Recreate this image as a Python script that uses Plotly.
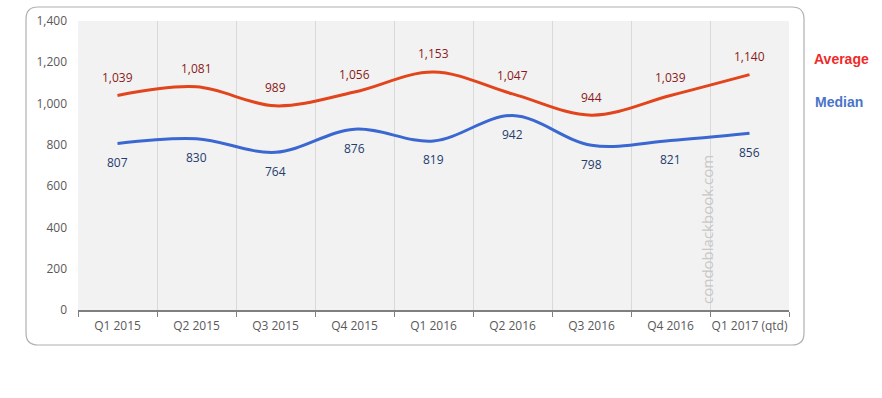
import plotly.graph_objects as go

categories = ["Q1 2015", "Q2 2015", "Q3 2015", "Q4 2015", "Q1 2016",
              "Q2 2016", "Q3 2016", "Q4 2016", "Q1 2017 (qtd)"]
average = [1039, 1081, 989, 1056, 1153, 1047, 944, 1039, 1140]
median = [807, 830, 764, 876, 819, 942, 798, 821, 856]
y_ticks = [0, 200, 400, 600, 800, 1000, 1200, 1400]

W, H = 882, 398
L, R, T, B = 78, 93, 21, 88
pw, ph = W - L - R, H - T - B

def px_to_paper(x, y):
    return (x - L) / pw, (H - B - y) / ph

font = "Open Sans, Liberation Sans, sans-serif"

fig = go.Figure()
fig.add_trace(go.Scatter(
    x=categories, y=average, mode="lines",
    line=dict(color="#e2441c", width=3, shape="spline", smoothing=1),
    showlegend=False, hoverinfo="skip"))
fig.add_trace(go.Scatter(
    x=categories, y=median, mode="lines",
    line=dict(color="#3a68d0", width=3, shape="spline", smoothing=1),
    showlegend=False, hoverinfo="skip"))

for c, v in zip(categories, average):
    fig.add_annotation(x=c, y=v, text=f"{v:,}", showarrow=False, yshift=18,
                       font=dict(color="#8b1a1a", size=12, family=font))
for c, v in zip(categories, median):
    fig.add_annotation(x=c, y=v, text=f"{v:,}", showarrow=False, yshift=-19,
                       font=dict(color="#243b6b", size=12, family=font))

# rounded outer frame
x0, y0 = px_to_paper(26, 345)
x1, y1 = px_to_paper(804, 7)
r = 12
rx, ry = r / pw, r / ph
path = (f"M {x0+rx} {y1} L {x1-rx} {y1} Q {x1} {y1} {x1} {y1-ry} "
        f"L {x1} {y0+ry} Q {x1} {y0} {x1-rx} {y0} "
        f"L {x0+rx} {y0} Q {x0} {y0} {x0} {y0+ry} "
        f"L {x0} {y1-ry} Q {x0} {y1} {x0+rx} {y1} Z")
fig.add_shape(type="path", path=path, xref="paper", yref="paper",
              line=dict(color="#b0b0b0", width=1.2), layer="below")

ax, ay = px_to_paper(842, 59)
fig.add_annotation(x=ax, y=ay, xref="paper", yref="paper", text="<b>Average</b>",
                   showarrow=False, xanchor="center", yanchor="middle",
                   font=dict(color="#ee2a2a", size=14, family="Liberation Sans, Arial"))
mx, my = px_to_paper(839, 102)
fig.add_annotation(x=mx, y=my, xref="paper", yref="paper", text="<b>Median</b>",
                   showarrow=False, xanchor="center", yanchor="middle",
                   font=dict(color="#4a74c9", size=14, family="Liberation Sans, Arial"))

wx, wy = px_to_paper(707, 230)
fig.add_annotation(x=wx, y=wy, xref="paper", yref="paper", text="condoblackbook.com",
                   textangle=-90, showarrow=False, xanchor="center", yanchor="middle",
                   font=dict(color="#c8c8c8", size=15, family=font))

fig.update_layout(
    width=W, height=H,
    margin=dict(l=L, r=R, t=T, b=B),
    paper_bgcolor="white", plot_bgcolor="#f2f2f2",
    font=dict(family=font, color="#595959", size=12),
    xaxis=dict(type="category", tickson="boundaries", showgrid=True,
               gridcolor="#d9d9d9", gridwidth=1, ticks="outside", ticklen=5,
               tickcolor="#7f7f7f", showline=True, linecolor="#7f7f7f",
               linewidth=1.5, tickangle=0, ticklabelstandoff=4,
               tickfont=dict(size=12, color="#595959"),
               range=[-0.5, 8.5], fixedrange=True),
    yaxis=dict(range=[0, 1400], tickvals=y_ticks, tickformat=",",
               showgrid=False, zeroline=False, ticks="", ticklen=0,
               ticklabelstandoff=10,
               tickfont=dict(size=12, color="#595959"), fixedrange=True),
)

fig.write_html("out.html", config={"displayModeBar": False},
               post_script="document.body.style.margin='0';")
